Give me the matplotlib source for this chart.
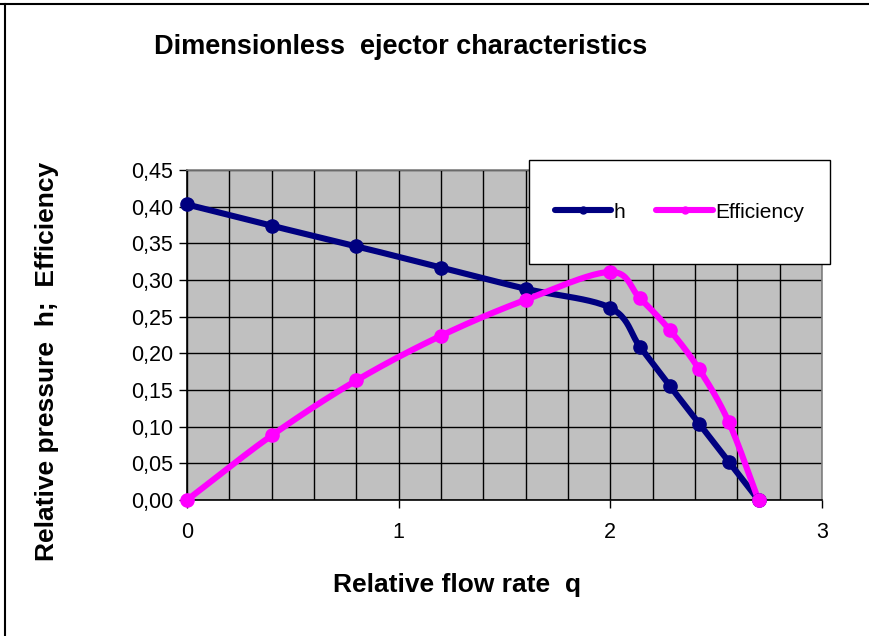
import numpy as np
import matplotlib
matplotlib.use("Agg")
import matplotlib.pyplot as plt
from matplotlib.lines import Line2D
from matplotlib.ticker import MultipleLocator, FuncFormatter

plt.rcParams['font.family'] = ['Liberation Sans', 'DejaVu Sans']

# Relative flow rate q
q = [0.0, 0.4, 0.8, 1.2, 1.6, 2.0, 2.14, 2.28, 2.42, 2.56, 2.70]
# Relative pressure h
h = [0.403, 0.374, 0.346, 0.317, 0.288, 0.262, 0.209, 0.156, 0.104, 0.052, 0.0]
# Efficiency
eff = [0.0, 0.088, 0.163, 0.224, 0.273, 0.311, 0.275, 0.232, 0.178, 0.106, 0.0]

NAVY = '#000080'
MAGENTA = '#FF00FF'

XMAX, YMAX = 3.0, 0.45


def smooth(xs, ys, sx, sy, n=24):
    """Catmull-Rom curve through the points, computed in screen-like units."""
    P = np.column_stack([np.asarray(xs) * sx, np.asarray(ys) * sy])
    P = np.vstack([2 * P[0] - P[1], P, 2 * P[-1] - P[-2]])
    out = []
    for i in range(1, len(P) - 2):
        p0, p1, p2, p3 = P[i - 1], P[i], P[i + 1], P[i + 2]
        t = np.linspace(0, 1, n, endpoint=False)[:, None]
        seg = 0.5 * ((2 * p1) + (-p0 + p2) * t + (2 * p0 - 5 * p1 + 4 * p2 - p3) * t ** 2
                     + (-p0 + 3 * p1 - 3 * p2 + p3) * t ** 3)
        out.append(seg)
    out.append(P[-2][None, :])
    C = np.vstack(out)
    return C[:, 0] / sx, C[:, 1] / sy


fig = plt.figure(figsize=(8.7, 6.36), dpi=100)
ax = fig.add_axes([187 / 870, 1 - 500 / 636, 635 / 870, 330 / 636])
ax.set_facecolor('#C0C0C0')
ax.set_xlim(0, XMAX)
ax.set_ylim(0, YMAX)

sx, sy = 635 / XMAX, 330 / YMAX
for ys, col in ((h, NAVY), (eff, MAGENTA)):
    cx, cy = smooth(q, ys, sx, sy)
    ax.plot(cx, cy, color=col, lw=4.4, solid_capstyle='round', zorder=3, clip_on=False)
    ax.plot(q, ys, 'o', color=col, ms=9.5, zorder=4, clip_on=False)

# grid
ax.xaxis.set_major_locator(MultipleLocator(1))
ax.xaxis.set_minor_locator(MultipleLocator(0.2))
ax.yaxis.set_major_locator(MultipleLocator(0.05))
ax.grid(which='both', axis='x', color='black', lw=1.0)
ax.grid(which='major', axis='y', color='black', lw=1.0)
ax.set_axisbelow(True)

ax.yaxis.set_major_formatter(FuncFormatter(lambda v, p: f"{v:.2f}".replace('.', ',')))
ax.xaxis.set_major_formatter(FuncFormatter(lambda v, p: f"{v:.0f}"))
ax.tick_params(axis='both', which='major', labelsize=15.5, length=6, width=1, color='black')
ax.tick_params(axis='x', which='minor', length=0)
ax.tick_params(axis='y', pad=4)
ax.tick_params(axis='x', pad=10)

for side in ('left', 'bottom'):
    ax.spines[side].set_color('black')
    ax.spines[side].set_linewidth(1.2)
for side in ('top', 'right'):
    ax.spines[side].set_color('#808080')
    ax.spines[side].set_linewidth(1.2)

fig.text(457 / 870, 1 - 585 / 636, 'Relative flow rate  q',
         ha='center', va='center', fontsize=19, fontweight='bold')
fig.text(47 / 870, 1 - 361 / 636, 'Relative pressure  h;  Efficiency',
         ha='center', va='center', rotation=90, fontsize=19, fontweight='bold')
fig.text(401 / 870, 1 - 47 / 636, 'Dimensionless  ejector characteristics',
         ha='center', va='center', fontsize=19.5, fontweight='bold')

handles = [Line2D([], [], color=NAVY, lw=4.4, marker='o', ms=5, solid_capstyle='round'),
           Line2D([], [], color=MAGENTA, lw=4.4, marker='o', ms=5, solid_capstyle='round')]
leg = fig.legend(handles, ['h', 'Efficiency'], loc='center', ncol=2,
                 bbox_to_anchor=(529 / 870, 1 - 264 / 636, 301 / 870, 104 / 636),
                 bbox_transform=fig.transFigure,
                 fontsize=15, frameon=False,
                 handlelength=2.7, handletextpad=0.12, columnspacing=1.5,
                 borderpad=0, borderaxespad=0)
leg.set_zorder(10)

# legend panel
box = plt.Rectangle((529 / 870, 1 - 264 / 636), 301 / 870, 104 / 636,
                    transform=fig.transFigure, facecolor='white', edgecolor='black',
                    lw=1.0, zorder=9)
fig.add_artist(box)

# outer chart border (top and left edges)
fig.add_artist(Line2D([0, 1], [1 - 4 / 636, 1 - 4 / 636], color='black', lw=1.5,
                      transform=fig.transFigure))
fig.add_artist(Line2D([5 / 870, 5 / 870], [0, 1 - 4 / 636], color='black', lw=1.5,
                      transform=fig.transFigure))

fig.savefig('out.png', dpi=100)
